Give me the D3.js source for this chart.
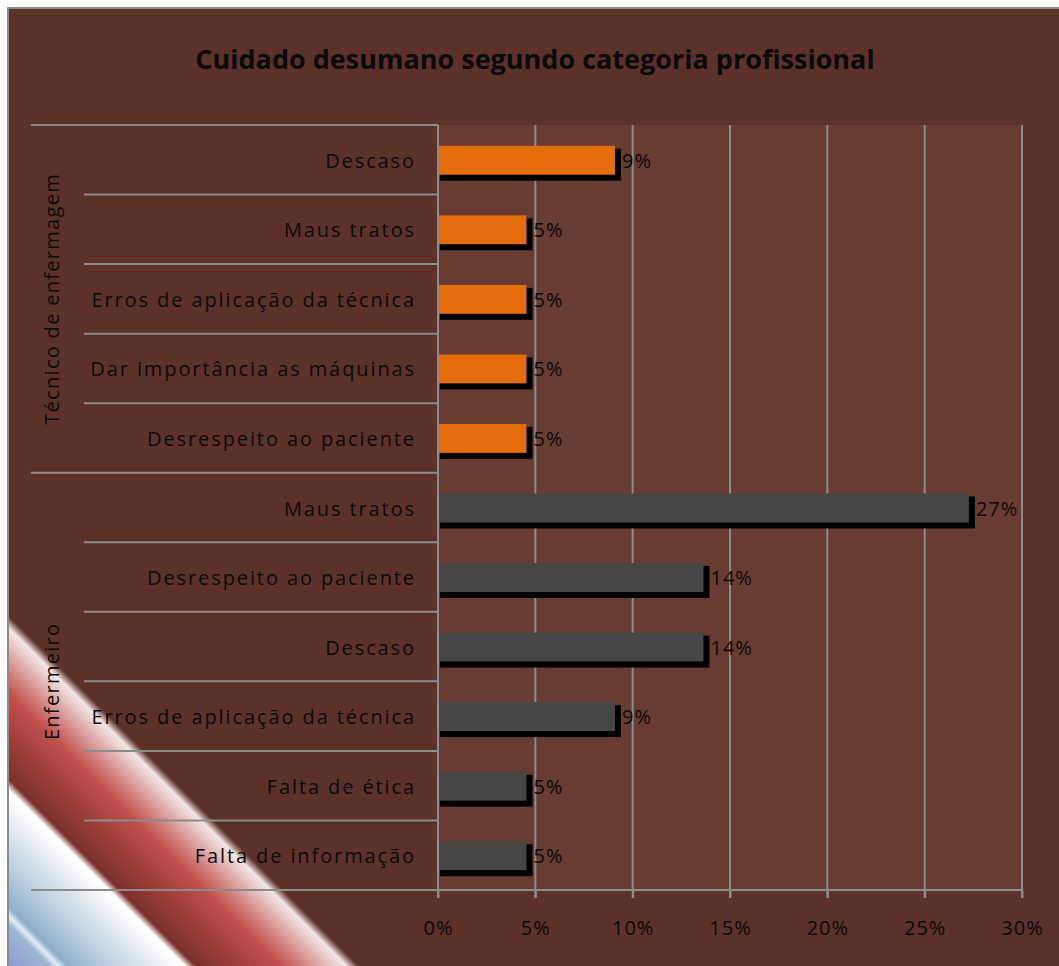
<!DOCTYPE html>
<html>
<head>
<meta charset="utf-8">
<script src="https://cdn.jsdelivr.net/npm/d3@7"></script>
<style>
  body { margin: 0; background: #fff; }
  text { font-family: "Open Sans", sans-serif; fill: #0a0a0a; }
</style>
</head>
<body>
<div id="chart"></div>
<script>
var width = 1059, height = 966,
    plot = { left: 438, right: 1022, top: 125, bottom: 890 };

// data, top to bottom as in the chart
var groups = ["Técnico de enfermagem", "Enfermeiro"];
var categories = ["Descaso", "Maus tratos", "Erros de aplicação da técnica", "Dar importância as máquinas",
    "Desrespeito ao paciente",
    "Maus tratos", "Desrespeito ao paciente", "Descaso", "Erros de aplicação da técnica",
    "Falta de ética", "Falta de informação"];
var categoryGroup = [0, 0, 0, 0, 0, 1, 1, 1, 1, 1, 1];
var values = [2/22, 1/22, 1/22, 1/22, 1/22, 6/22, 3/22, 3/22, 2/22, 1/22, 1/22];
var xTicks = [0, 0.05, 0.10, 0.15, 0.20, 0.25, 0.30];
var groupColors = ["#e46c0a", "#464646"];

var svg = d3.select("#chart").append("svg")
    .attr("width", width)
    .attr("height", height);

var defs = svg.append("defs");

// decorative stripe in the lower left corner
var stripe = defs.append("linearGradient")
    .attr("id", "stripe")
    .attr("gradientUnits", "userSpaceOnUse")
    .attr("x1", 8).attr("y1", 966)
    .attr("x2", 8 + 248 / Math.SQRT2).attr("y2", 966 - 248 / Math.SQRT2);
[[0, "#8b9bd2"], [0.12, "#9fb6d6"], [0.145, "#e4ecf3"], [0.17, "#8fb0cb"], [0.30, "#bfd1e0"],
 [0.46, "#f4f7fa"], [0.505, "#ffffff"], [0.535, "#7a2f2a"], [0.64, "#9a3c37"], [0.78, "#c0504d"],
 [0.90, "#dfb0ae"], [0.965, "#f3e8e6"], [1, "#5c3129"]].forEach(function(s) {
    stripe.append("stop").attr("offset", s[0]).attr("stop-color", s[1]);
});

svg.append("rect")
    .attr("x", 8).attr("y", 8)
    .attr("width", width + 10).attr("height", height + 10)
    .style("fill", "#5c3129")
    .style("stroke", "#8c8c8c")
    .style("stroke-width", 2);

svg.append("path")
    .attr("d", "M9," + (966 - 248 * Math.SQRT2) + "L9,966L" + (9 + 248 * Math.SQRT2) + ",966Z")
    .style("fill", "url(#stripe)");

svg.append("rect")
    .attr("x", plot.left).attr("y", plot.top)
    .attr("width", plot.right - plot.left).attr("height", plot.bottom - plot.top)
    .style("fill", "#683b33");

var x = d3.scaleLinear().domain([0, 0.30]).range([plot.left, plot.right]);
var y = d3.scaleBand()
    .domain(d3.range(categories.length))
    .range([plot.top, plot.bottom])
    .paddingInner(0.57)
    .paddingOuter(0.285);
var step = y.step();

// grid lines with tick marks below the axis
svg.selectAll(".grid")
    .data(xTicks.slice(1))
    .enter().append("line")
    .attr("x1", function(d) { return x(d); })
    .attr("x2", function(d) { return x(d); })
    .attr("y1", plot.top)
    .attr("y2", plot.bottom + 8)
    .style("stroke", "#8c8c8c")
    .style("stroke-width", 2);

svg.append("g")
    .attr("transform", "translate(0," + plot.bottom + ")")
    .call(d3.axisBottom(x).tickValues(xTicks).tickFormat(d3.format(".0%")).tickSize(8).tickPadding(23))
    .call(function(g) {
        g.select(".domain").remove();
        g.selectAll(".tick line").style("stroke", "#8c8c8c").style("stroke-width", 2);
        g.selectAll(".tick text").style("font-size", "20px").style("font-family", "Open Sans")
            .style("letter-spacing", "1px").style("fill", "#0a0a0a");
    });

// bars with their black shadow
var bars = svg.selectAll(".bar")
    .data(values)
    .enter().append("g")
    .attr("class", "bar");

bars.append("rect")
    .attr("x", plot.left + 2)
    .attr("y", function(d, i) { return y(i) + 4; })
    .attr("width", function(d) { return x(d) - plot.left + 4; })
    .attr("height", y.bandwidth() + 2)
    .style("fill", "#000");

bars.append("rect")
    .attr("x", plot.left + 1)
    .attr("y", function(d, i) { return y(i) + 1; })
    .attr("width", function(d) { return x(d) - plot.left - 1; })
    .attr("height", y.bandwidth() - 1)
    .style("fill", function(d, i) { return groupColors[categoryGroup[i]]; });

bars.append("text")
    .attr("x", function(d) { return x(d) + 7; })
    .attr("y", function(d, i) { return y(i) + y.bandwidth() / 2 + 1; })
    .attr("dy", "0.35em")
    .style("font-size", "20px")
    .style("letter-spacing", "1px")
    .text(function(d) { return d3.format(".0%")(d); });

// category axis: separators, labels and group labels
var axisColor = "#8c8c8c";
svg.selectAll(".sep")
    .data(d3.range(categories.length + 1))
    .enter().append("line")
    .attr("x1", function(i) {
        var edge = i == 0 || i == categories.length || categoryGroup[i] != categoryGroup[i - 1];
        return edge ? 31 : 84;
    })
    .attr("x2", function(i) { return i == categories.length ? plot.right : plot.left; })
    .attr("y1", function(i) { return plot.top + i * step; })
    .attr("y2", function(i) { return plot.top + i * step; })
    .style("stroke", axisColor)
    .style("stroke-width", 2);

svg.append("line")
    .attr("x1", plot.left).attr("x2", plot.left)
    .attr("y1", plot.top).attr("y2", plot.bottom + 8)
    .style("stroke", axisColor)
    .style("stroke-width", 2);

svg.selectAll(".catLabel")
    .data(categories)
    .enter().append("text")
    .attr("x", 416)
    .attr("y", function(d, i) { return y(i) + y.bandwidth() / 2 + 1; })
    .attr("dy", "0.35em")
    .style("text-anchor", "end")
    .style("font-size", "20px")
    .style("letter-spacing", "1.9px")
    .text(function(d) { return d; });

svg.selectAll(".groupLabel")
    .data(groups)
    .enter().append("text")
    .attr("transform", function(d, gi) {
        var idx = d3.range(categories.length).filter(function(i) { return categoryGroup[i] == gi; });
        var mid = plot.top + (idx[0] + idx[idx.length - 1] + 1) / 2 * step;
        return "translate(52," + mid + ") rotate(-90)";
    })
    .attr("dy", "0.35em")
    .style("text-anchor", "middle")
    .style("font-size", "20px")
    .style("letter-spacing", "1.3px")
    .text(function(d) { return d; });

svg.append("text")
    .attr("x", 535)
    .attr("y", 69)
    .style("text-anchor", "middle")
    .style("font-size", "27px")
    .style("font-weight", "bold")
    .text("Cuidado desumano segundo categoria profissional");
</script>
</body>
</html>
